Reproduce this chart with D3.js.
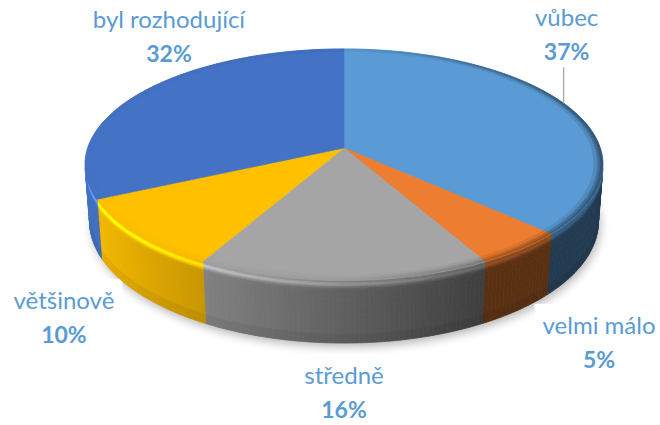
<!DOCTYPE html>
<html>
<head>
<meta charset="utf-8">
<script src="https://cdn.jsdelivr.net/npm/d3@7"></script>
<style>
  body { margin: 0; background: #fff; }
  svg { display: block; }
</style>
</head>
<body>
<svg id="chart" width="660" height="425"></svg>
<script>
// ---- data ----
const categories = ["vůbec", "velmi málo", "středně", "většinově", "byl rozhodující"];
const shares = [37, 5, 16, 10, 32];
const pctLabels = ["37%", "5%", "16%", "10%", "32%"];
const sliceColors = ["#5B9BD5", "#ED7D31", "#A5A5A5", "#FFC000", "#4472C4"];

// ---- layout ----
// label offset from the rim midpoint of each slice (px), and which label has a leader line
const labelNudge = [[0, -45], [78, 119], [0, 138], [-73, 109], [26, -30]];
const labelLeader = [true, false, false, false, false];
const wallBands = [0, .02, .04, .06, .08, .1, .13, .17, .22, .3, .4, .55, .7, .85, 1];
const rimBands = [0.965, 0.98, 0.99, 1];

const CX = 344, CY = 148;       // screen position of the pie centre
const SCALE = 256.3;            // radius in px
const TILT = Math.asin(0.4417); // camera elevation
const PERSP = 0.159;            // radius / camera distance
const DEPTH = 0.25;             // wall height / radius
const LABEL_COLOR = "#5B9BD5";
const FONT = "Lato, 'Open Sans', sans-serif";

const svg = d3.select("#chart");
const defs = svg.append("defs");
defs.append("filter")
    .attr("id", "shadowBlur")
    .attr("x", "-20%").attr("y", "-20%").attr("width", "140%").attr("height", "140%")
    .append("feGaussianBlur").attr("stdDeviation", 5);

const xScale = d3.scaleLinear().domain([-1, 1]).range([CX - SCALE, CX + SCALE]);
const yScale = d3.scaleLinear().domain([-1, 1]).range([CY - SCALE, CY + SCALE]);

const sinT = Math.sin(TILT), cosT = Math.cos(TILT);

// perspective projection of a point of the disc: angle phi (0 = back, clockwise), radius r, height y
function project(phi, r, y) {
    const X = r * Math.sin(phi), Z = -r * Math.cos(phi);
    const v = Z * sinT - y * cosT;
    const c = Z * cosT + y * sinT;
    const k = 1 - PERSP * c;
    return [xScale(X / k), yScale(v / k)];
}

function rimPoints(a0, a1, r, y) {
    const n = Math.max(2, Math.ceil((a1 - a0) / (Math.PI / 360)));
    return d3.range(n + 1).map(i => project(a0 + (a1 - a0) * i / n, r, y));
}

const line = d3.line().curve(d3.curveLinearClosed);

const pie = d3.pie().sort(null).value(d => d);
const arcs = pie(shares);

// side lighting: light comes from the left
function light(phi) {
    return Math.max(0.38, Math.min(1.05, 0.58 - 0.42 * Math.sin(phi)));
}
function wallFactor(phi, t) {
    const f = light(phi);
    const bump = Math.exp(-Math.pow((t - 0.07) / 0.045, 2));
    const topBlend = Math.exp(-Math.pow(t / 0.025, 2));
    let m = topBlend * 0.95 + (1 - topBlend) * (f + 0.45 * (f + 0.15) * bump);
    if (t > 0.85) m *= 1 - 0.8 * (t - 0.85);
    return m;
}
function rimFactor(phi, r) {
    const f = light(phi);
    const w = (0.15 + 0.7 * Math.max(0, Math.sin(phi))) * (r - rimBands[0]) / (1 - rimBands[0]);
    return 1 - (1 - Math.min(1, f)) * w;
}
function shade(color, m) {
    const c = d3.rgb(color);
    return d3.rgb(Math.min(255, c.r * m), Math.min(255, c.g * m), Math.min(255, c.b * m)).formatHex();
}

// ---- shadow under the pie ----
svg.append("path")
    .attr("d", line(rimPoints(0, 2 * Math.PI, 1, -DEPTH).map(p => [p[0] + 2, p[1] + 4])))
    .attr("fill", "#000")
    .attr("opacity", 0.28)
    .attr("filter", "url(#shadowBlur)");

// ---- label groups (white boxes go under the pie) ----
const labelLayer = svg.append("g");
const labelG = labelLayer.selectAll("g.label")
    .data(arcs)
    .join("g")
    .attr("class", "label")
    .attr("transform", (d, i) => {
        const p = project((d.startAngle + d.endAngle) / 2, 1, 0);
        return `translate(${p[0] + labelNudge[i][0]},${p[1] + labelNudge[i][1]})`;
    });

const pieLayer = svg.append("g");

// ---- visible outer walls ----
const vis0 = Math.acos(-PERSP / cosT), vis1 = 2 * Math.PI - vis0;
const wallCells = [];
arcs.forEach((d, i) => {
    const lo = Math.max(d.startAngle, vis0), hi = Math.min(d.endAngle, vis1);
    if (lo >= hi) return;
    const n = Math.ceil((hi - lo) / (Math.PI / 180));
    for (let s = 0; s < n; s++) {
        const p0 = lo + (hi - lo) * s / n, p1 = lo + (hi - lo) * (s + 1) / n;
        for (let b = 0; b < wallBands.length - 1; b++) {
            const t0 = wallBands[b], t1 = wallBands[b + 1];
            wallCells.push({
                pts: [project(p0, 1, -t0 * DEPTH), project(p1, 1, -t0 * DEPTH),
                      project(p1, 1, -t1 * DEPTH), project(p0, 1, -t1 * DEPTH)],
                color: shade(sliceColors[i], wallFactor((p0 + p1) / 2, (t0 + t1) / 2))
            });
        }
    }
});
pieLayer.append("g").selectAll("path")
    .data(wallCells)
    .join("path")
    .attr("d", d => line(d.pts))
    .attr("fill", d => d.color)
    .attr("stroke", d => d.color)
    .attr("stroke-width", 0.7)
    .attr("stroke-linejoin", "round");

// ---- top faces ----
pieLayer.append("g").selectAll("path")
    .data(arcs)
    .join("path")
    .attr("d", d => line([project(0, 0, 0), ...rimPoints(d.startAngle, d.endAngle, 1, 0)]))
    .attr("fill", (d, i) => sliceColors[i])
    .attr("stroke", (d, i) => sliceColors[i])
    .attr("stroke-width", 0.6)
    .attr("stroke-linejoin", "round");

// ---- bevel ring on the top face edge ----
const rimCells = [];
arcs.forEach((d, i) => {
    const n = Math.ceil((d.endAngle - d.startAngle) / (Math.PI / 180));
    for (let s = 0; s < n; s++) {
        const p0 = d.startAngle + (d.endAngle - d.startAngle) * s / n;
        const p1 = d.startAngle + (d.endAngle - d.startAngle) * (s + 1) / n;
        for (let b = 0; b < rimBands.length - 1; b++) {
            const r0 = rimBands[b], r1 = rimBands[b + 1];
            rimCells.push({
                pts: [project(p0, r0, 0), project(p1, r0, 0), project(p1, r1, 0), project(p0, r1, 0)],
                color: shade(sliceColors[i], rimFactor((p0 + p1) / 2, (r0 + r1) / 2))
            });
        }
    }
});
pieLayer.append("g").selectAll("path")
    .data(rimCells)
    .join("path")
    .attr("d", d => line(d.pts))
    .attr("fill", d => d.color)
    .attr("stroke", d => d.color)
    .attr("stroke-width", 0.5)
    .attr("stroke-linejoin", "round");

// ---- labels ----
labelG.append("text")
    .attr("class", "name")
    .attr("text-anchor", "middle")
    .attr("y", -34)
    .attr("font-family", FONT)
    .attr("font-size", 24)
    .attr("fill", LABEL_COLOR)
    .text((d, i) => categories[i]);
labelG.append("text")
    .attr("class", "pct")
    .attr("text-anchor", "middle")
    .attr("font-family", FONT)
    .attr("font-size", 23)
    .attr("font-weight", "bold")
    .attr("fill", LABEL_COLOR)
    .text((d, i) => pctLabels[i]);

// white label boxes sit behind the pie, above the shadow
labelG.each(function () {
    const bb = this.getBBox();
    d3.select(this).insert("rect", ":first-child")
        .attr("x", bb.x - 8).attr("y", bb.y - 6)
        .attr("width", bb.width + 16).attr("height", bb.height + 10)
        .attr("fill", "#fff");
});
// texts go above the pie
const textLayer = svg.append("g");
labelG.each(function () {
    const g = d3.select(this);
    const copy = textLayer.append("g").attr("transform", g.attr("transform"));
    g.selectAll("text").each(function () { copy.node().appendChild(this); });
});

// leader lines
arcs.forEach((d, i) => {
    if (!labelLeader[i]) return;
    const p = project((d.startAngle + d.endAngle) / 2, 1, 0);
    textLayer.append("line")
        .attr("x1", p[0] - 3).attr("x2", p[0] - 3)
        .attr("y1", p[1] - 2)
        .attr("y2", p[1] + labelNudge[i][1] + 7)
        .attr("stroke", "#a6a6a6")
        .attr("stroke-width", 1.3);
});
</script>
</body>
</html>
